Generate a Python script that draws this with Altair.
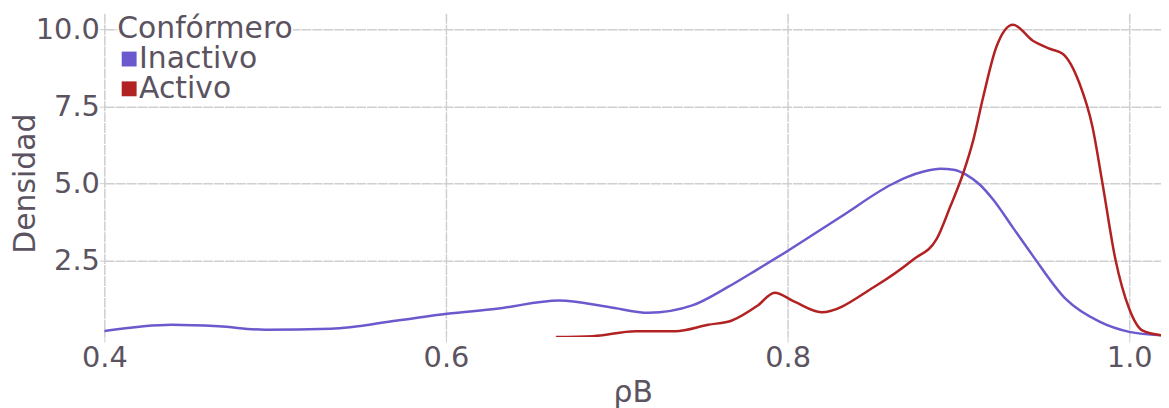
import altair as alt
import pandas as pd

# Inactivo density curve (rho_B, density)
inact_x = [0.400, 0.4395, 0.4669, 0.4942, 0.5326, 0.5715, 0.6006, 0.6297, 0.6663,
           0.6953, 0.7186, 0.7442, 0.7651, 0.7826, 0.800, 0.8314, 0.8605, 0.8699,
           0.8797, 0.8895, 0.8971, 0.9047, 0.9126, 0.9203, 0.932, 0.9436, 0.9628,
           0.9826, 1.000, 1.0186]
inact_y = [0.20, 0.40, 0.35, 0.24, 0.27, 0.54, 0.76, 0.92, 1.19,
           0.98, 0.79, 1.03, 1.63, 2.21, 2.80, 3.92, 4.95, 5.20,
           5.38, 5.47, 5.44, 5.27, 4.95, 4.47, 3.55, 2.64, 1.24,
           0.50, 0.17, 0.06]

# Activo density curve
act_x = [0.6645, 0.686, 0.711, 0.7343, 0.7535, 0.7674, 0.7826, 0.7924, 0.804,
         0.8198, 0.8506, 0.8738, 0.8872, 0.8953, 0.9029, 0.9087, 0.9145, 0.9221,
         0.932, 0.9436, 0.9535, 0.961, 0.9709, 0.9785, 0.9843, 0.9919, 1.000,
         1.0076, 1.0186]
act_y = [0.00, 0.03, 0.19, 0.19, 0.40, 0.54, 1.03, 1.44, 1.15,
         0.81, 1.63, 2.53, 3.18, 4.25, 5.34, 6.40, 7.80, 9.41,
         10.15, 9.63, 9.37, 9.21, 8.24, 6.83, 5.01, 2.53, 0.92,
         0.22, 0.06]

series = ["Inactivo", "Activo"]
colors = ["#6a5acd", "#b22222"]
x_ticks = [0.4, 0.6, 0.8, 1.0]
y_ticks = [2.5, 5.0, 7.5, 10.0]

df = pd.concat([
    pd.DataFrame({"rho": inact_x, "dens": inact_y, "conf": "Inactivo", "order": range(len(inact_x))}),
    pd.DataFrame({"rho": act_x, "dens": act_y, "conf": "Activo", "order": range(len(act_x))}),
])

txt = "#5b5360"
grid = "#cfcfd3"

x_enc = alt.X("rho:Q", title="ρB",
              scale=alt.Scale(domain=[0.4, 1.0186], nice=False, zero=False),
              axis=alt.Axis(values=x_ticks, format=".1f", labelFlush=False, labelPadding=2,
                            titleX=532, titleY=64.5, titleBaseline="alphabetic",
                            titleAlign="center"))
y_enc = alt.Y("dens:Q", title="Densidad",
              scale=alt.Scale(domain=[0, 10.52], nice=False),
              axis=alt.Axis(values=y_ticks, format=".1f", labelPadding=0,
                            titleX=-70, titleY=171, titleBaseline="alphabetic",
                            titleAlign="center", titleAngle=270))
color_enc = alt.Color("conf:N", title="Confórmero",
                      scale=alt.Scale(domain=series, range=colors),
                      legend=alt.Legend(orient="none", legendX=13, legendY=1,
                                        symbolType="square", symbolSize=225,
                                        symbolStrokeWidth=0, fillColor="white",
                                        padding=0, titlePadding=0, rowPadding=0,
                                        symbolOffset={"expr": "-3"},
                                        labelOffset={"expr": "-5"}))

base = alt.Chart(df).encode(x=x_enc, y=y_enc, color=color_enc, order="order:Q")

# tiny filled squares hidden under the lines give the legend its filled square keys
keys = base.mark_square(size=1, filled=True, opacity=1, clip=True)
lines = base.mark_line(interpolate="monotone", strokeWidth=2.5, clip=True)

chart = alt.layer(keys, lines).properties(
    width=1064, height=326,
    autosize=alt.AutoSizeParams(type="none"),
    padding={"left": 97, "top": 4, "right": 0, "bottom": 70},
).configure_view(stroke=None).configure_axis(
    labelFont="DejaVu Sans", titleFont="DejaVu Sans",
    labelFontSize=29, titleFontSize=30,
    labelColor=txt, titleColor=txt,
    titleFontWeight="normal",
    domain=False, tickColor=grid, tickSize=5,
    gridColor=grid, gridWidth=1.5, gridDash=[10, 1],
).configure_legend(
    labelFont="DejaVu Sans", titleFont="DejaVu Sans",
    labelFontSize=30, titleFontSize=30, titleFontWeight="normal",
    labelColor=txt, titleColor=txt,
)

chart.save("out.html", embed_options={"renderer": "svg", "actions": False})
